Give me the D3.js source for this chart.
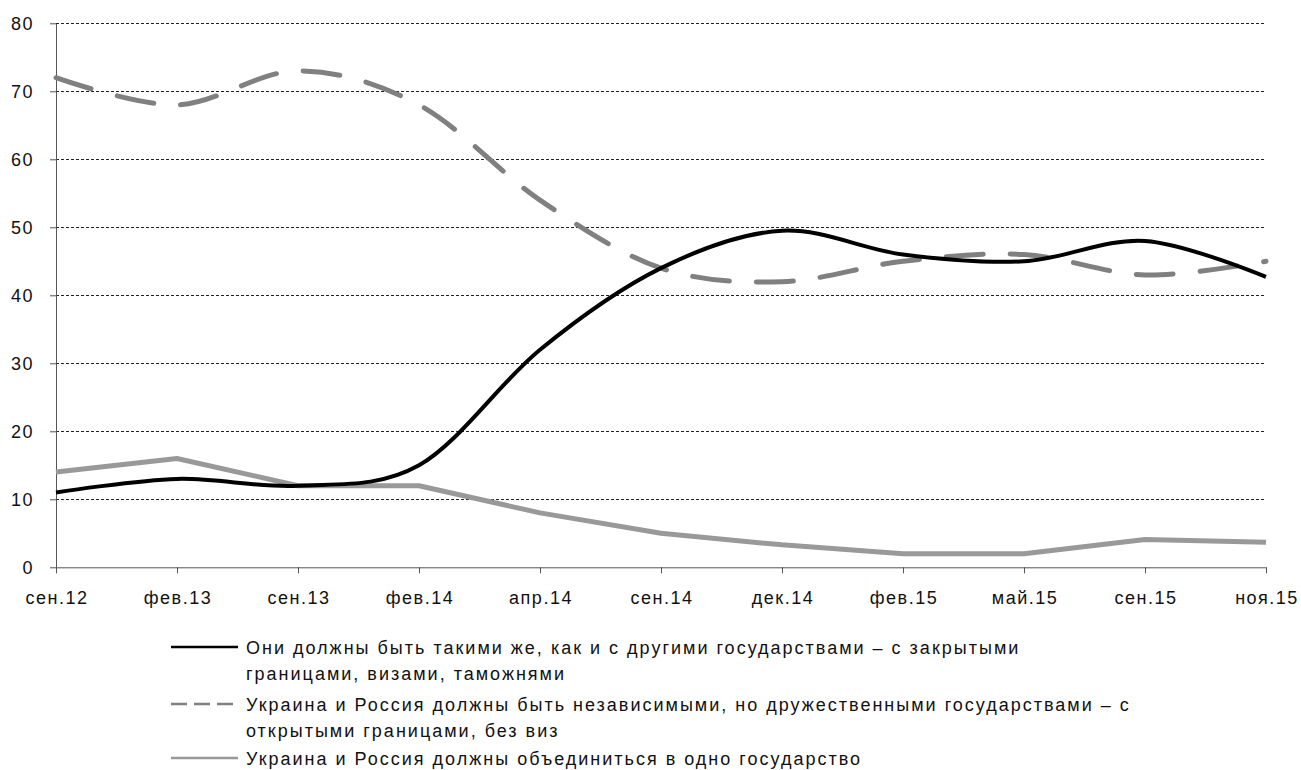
<!DOCTYPE html>
<html>
<head>
<meta charset="utf-8">
<script src="https://cdn.jsdelivr.net/npm/d3@7"></script>
<style>
  body { margin: 0; background: #fff; }
  svg text { font-family: "Liberation Sans", Arial, sans-serif; fill: #111; }
</style>
</head>
<body>
<svg id="chart" width="1301" height="770"></svg>
<script>
const categories = ["сен.12","фев.13","сен.13","фев.14","апр.14","сен.14","дек.14","фев.15","май.15","сен.15","ноя.15"];
const closedBorders = [11, 13, 12, 15, 32, 44, 49.5, 46, 45, 48, 42.7];
const friendlyOpen = [72, 68, 73, 68, 54, 44, 42, 45, 46, 43, 45];
const unite = [14, 16, 12, 12, 8, 5, 3.3, 2, 2, 4.1, 3.7];
const yTicks = [0, 10, 20, 30, 40, 50, 60, 70, 80];
const legendLabels = [
  ["Они должны быть такими же, как и с другими государствами – с закрытыми", "границами, визами, таможнями"],
  ["Украина и Россия должны быть независимыми, но дружественными государствами – с", "открытыми границами, без виз"],
  ["Украина и Россия должны объединиться в одно государство"]
];

(function () {
const svg = d3.select("#chart");
const mLeft = 56, mRight = 1266, mTop = 23.3, mBottom = 567.3;

const x = d3.scalePoint().domain(categories).range([mLeft, mRight]);
const y = d3.scaleLinear().domain([0, 80]).range([mBottom, mTop]);

// gridlines
svg.append("g").selectAll("line").data(yTicks.filter(d => d > 0)).join("line")
  .attr("x1", mLeft).attr("x2", mRight)
  .attr("y1", d => Math.round(y(d)) + 0.5).attr("y2", d => Math.round(y(d)) + 0.5)
  .attr("stroke", "#222").attr("stroke-width", 1).attr("stroke-dasharray", "3,2");

// y axis
const yAxis = svg.append("g").attr("transform", `translate(${mLeft},0)`)
  .call(d3.axisLeft(y).tickValues(yTicks).tickSize(6).tickPadding(16).tickSizeOuter(0));
yAxis.select(".domain").attr("stroke", "#555");
yAxis.selectAll(".tick line").attr("stroke", "#555");
yAxis.selectAll(".tick text").attr("font-size", 18).attr("font-family", "Liberation Sans, Arial, sans-serif")
  .attr("letter-spacing", "1.5px").attr("fill", "#111").attr("dy", "0.36em");

// x axis
const xAxis = svg.append("g").attr("transform", `translate(0,${mBottom})`)
  .call(d3.axisBottom(x).tickSize(6).tickPadding(24).tickSizeOuter(0));
xAxis.select(".domain").attr("stroke", "#555");
xAxis.selectAll(".tick line").attr("stroke", "#555");
xAxis.selectAll(".tick text").attr("font-size", 18).attr("font-family", "Liberation Sans, Arial, sans-serif")
  .attr("letter-spacing", "1.5px").attr("fill", "#111").attr("dy", "0.35em").attr("dx", "0.5");

const smooth = d3.line().x((d, i) => x(categories[i])).y(d => y(d)).curve(d3.curveCatmullRom.alpha(0));
const straight = d3.line().x((d, i) => x(categories[i])).y(d => y(d));

svg.append("path").datum(unite).attr("d", straight)
  .attr("fill", "none").attr("stroke", "#999").attr("stroke-width", 5).attr("stroke-linejoin", "round");
svg.append("path").datum(friendlyOpen).attr("d", smooth)
  .attr("fill", "none").attr("stroke", "#808080").attr("stroke-width", 5)
  .attr("stroke-dasharray", "37,27").attr("stroke-linecap", "round");
svg.append("path").datum(closedBorders).attr("d", smooth)
  .attr("fill", "none").attr("stroke", "#000").attr("stroke-width", 4).attr("stroke-linejoin", "round");

// legend
const legendStyles = [
  { stroke: "#000", width: 2.5, dash: null },
  { stroke: "#808080", width: 2.5, dash: "16,7" },
  { stroke: "#999", width: 2.5, dash: null }
];
const rowBase = [[654, 680], [711, 737], [765]];
const lg = svg.append("g");
legendLabels.forEach((lines, i) => {
  const s = legendStyles[i];
  const ly = rowBase[i][0] - 7;
  const ln = lg.append("line").attr("x1", 171).attr("x2", 238)
    .attr("y1", ly).attr("y2", ly)
    .attr("stroke", s.stroke).attr("stroke-width", s.width);
  if (s.dash) ln.attr("stroke-dasharray", s.dash);
  lines.forEach((t, j) => {
    lg.append("text").attr("x", 246).attr("y", rowBase[i][j])
      .attr("font-size", 18).attr("letter-spacing", "2px").text(t);
  });
});
})();
</script>
</body>
</html>
